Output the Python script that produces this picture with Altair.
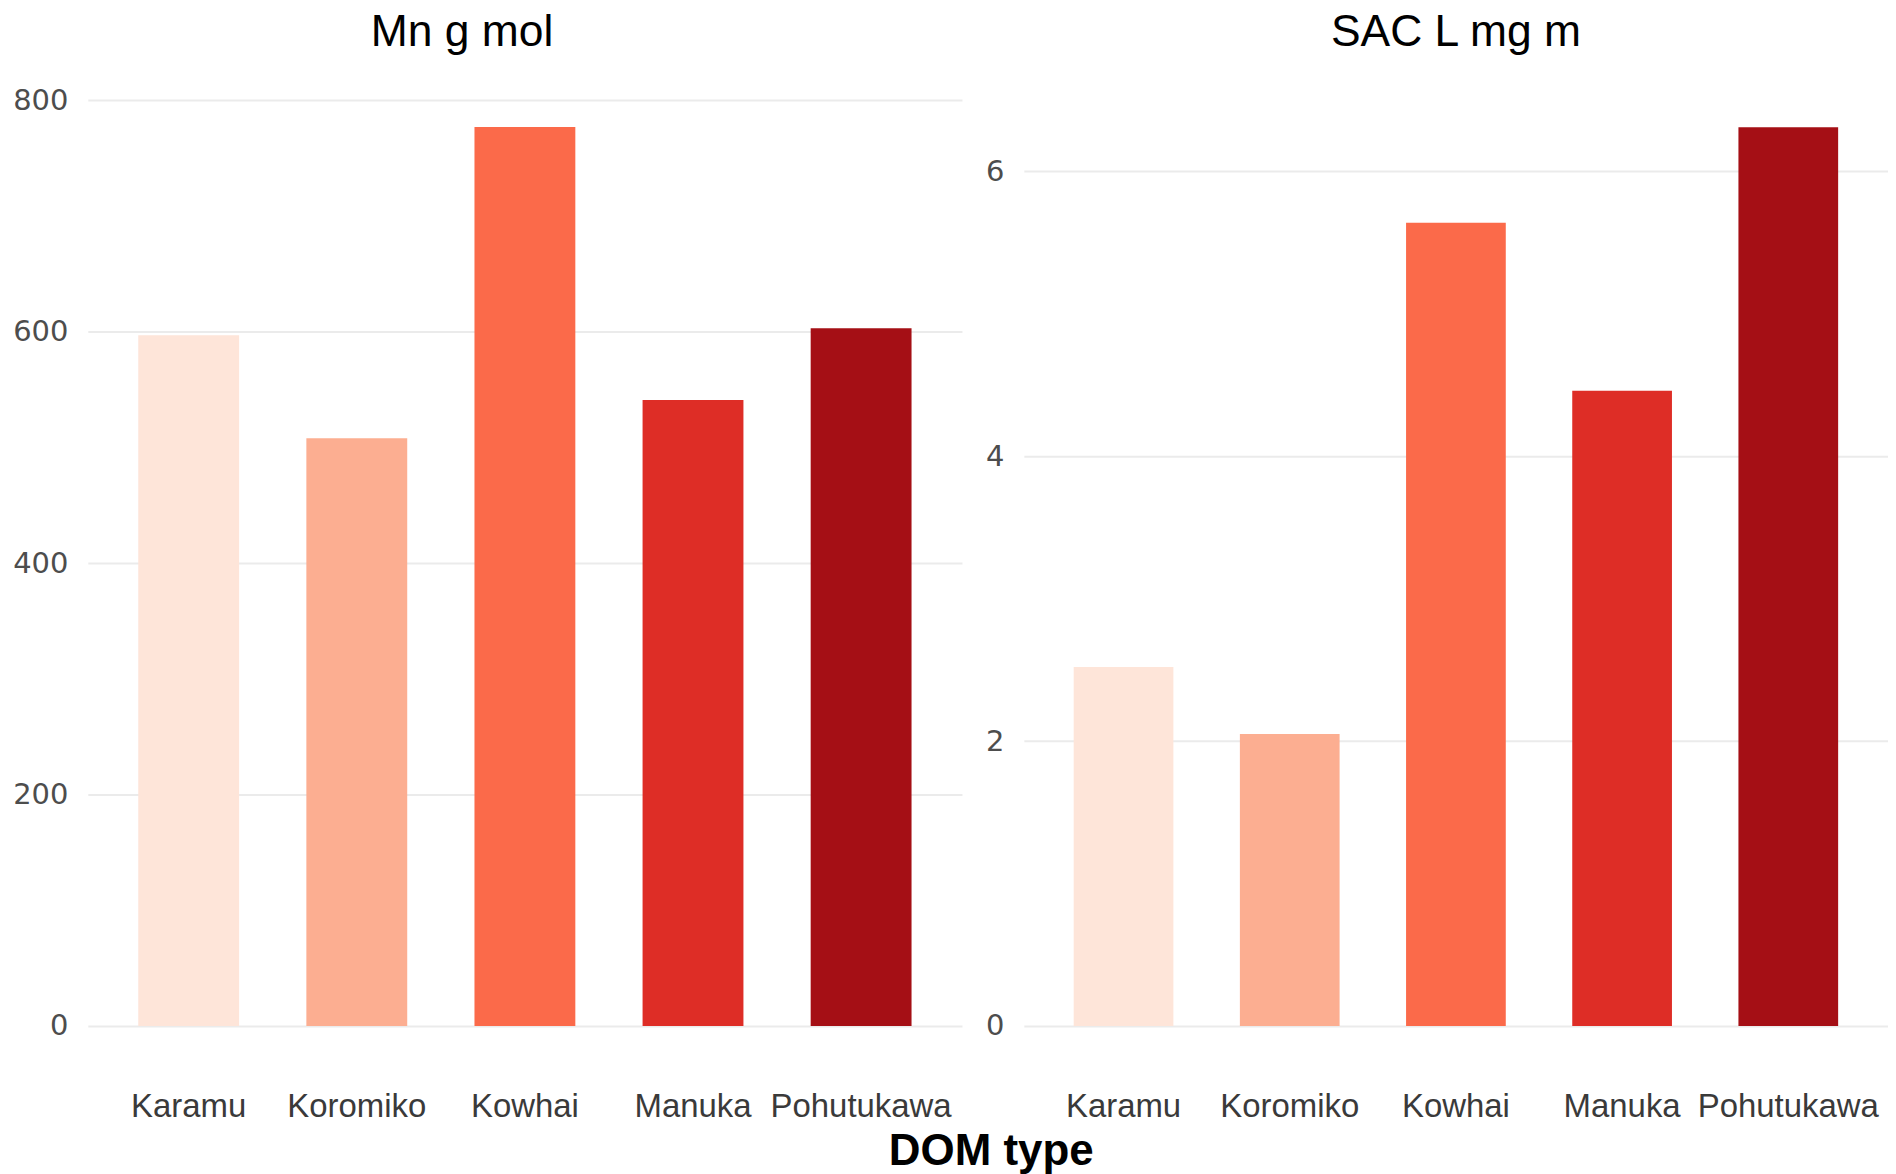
import altair as alt
import pandas as pd

dom_types = ["Karamu", "Koromiko", "Kowhai", "Manuka", "Pohutukawa"]
mn_values = [597, 508, 777, 541, 603]
sac_values = [2.52, 2.05, 5.64, 4.46, 6.31]
palette = ["#fee5d9", "#fcae91", "#fb6a4a", "#de2d26", "#a50f15"]
left_ticks = [0, 200, 400, 600, 800]
right_ticks = [0, 2, 4, 6]
left_title = "Mn g mol"
right_title = "SAC L mg m"
x_title = "DOM type"


def panel(values, title, domain, ticks, width, title_dx):
    df = pd.DataFrame({"dom": dom_types, "v": values})
    return (
        alt.Chart(
            df,
            title=alt.TitleParams(
                title,
                fontSize=44.5,
                font="Liberation Sans",
                fontWeight="normal",
                color="black",
                anchor="middle",
                offset=-9,
                baseline="alphabetic",
                dx=title_dx,
            ),
        )
        .mark_bar()
        .encode(
            x=alt.X(
                "dom:N",
                sort=dom_types,
                scale=alt.Scale(paddingInner=0.4, paddingOuter=0.3),
                axis=alt.Axis(
                    title=None,
                    labelAngle=0,
                    labelFont="Liberation Sans",
                    labelFontSize=33,
                    labelColor="#3a3a3a",
                    labelPadding=20,
                    labelLimit=0,
                    ticks=False,
                    domain=False,
                    grid=False,
                ),
            ),
            y=alt.Y(
                "v:Q",
                scale=alt.Scale(domain=domain, nice=False, zero=False),
                axis=alt.Axis(
                    values=ticks,
                    title=None,
                    labelFont="DejaVu Sans",
                    labelFontSize=29,
                    labelColor="#4d4d4d",
                    labelPadding=20,
                    ticks=False,
                    domain=False,
                    grid=True,
                    gridColor="#ebebeb",
                    gridWidth=2,
                ),
            ),
            color=alt.Color(
                "dom:N",
                scale=alt.Scale(domain=dom_types, range=palette),
                legend=None,
            ),
        )
        .properties(width=width, height=992)
    )


left = panel(mn_values, left_title, [-38.9, 816.6], left_ticks, 876, -63)
right = panel(sac_values, right_title, [-0.316, 6.634], right_ticks, 866, 0)

chart = (
    alt.hconcat(left, right, spacing=23)
    .properties(
        title=alt.TitleParams(
            x_title,
            orient="bottom",
            anchor="middle",
            fontSize=44,
            font="Liberation Sans",
            fontWeight="bold",
            color="black",
            offset=6,
            dx=41,
        ),
        padding={"left": 4, "top": 0, "right": 0, "bottom": 0},
        background="white",
    )
    .configure_view(strokeWidth=0, stroke="transparent")
)

chart.save("out.html", embed_options={"renderer": "svg", "actions": False})
